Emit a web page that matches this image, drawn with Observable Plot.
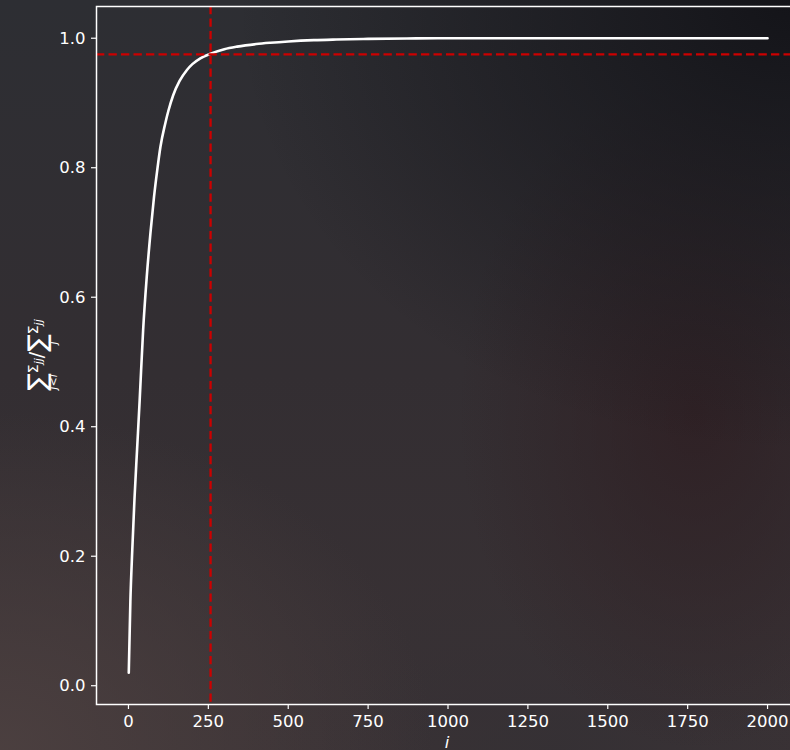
<!DOCTYPE html>
<html>
<head>
<meta charset="utf-8">
<script src="https://cdn.jsdelivr.net/npm/d3@7"></script>
<script src="https://cdn.jsdelivr.net/npm/@observablehq/plot@0.6"></script>
<style>
  html, body { margin: 0; padding: 0; width: 790px; height: 750px; overflow: hidden; }
  body {
    position: relative;
    font-family: "DejaVu Sans", sans-serif;
    background:
      radial-gradient(ellipse 55% 45% at 0% 100%, rgba(76,64,64,0.95), rgba(76,64,64,0) 100%),
      radial-gradient(ellipse 70% 60% at 100% 0%, rgba(20,20,25,1), rgba(20,20,25,0) 100%),
      radial-gradient(ellipse 30% 45% at 88% 55%, rgba(46,30,34,0.8), rgba(46,30,34,0) 100%),
      radial-gradient(ellipse 40% 25% at 70% 100%, rgba(52,48,52,0.8), rgba(52,48,52,0) 100%),
      linear-gradient(180deg, #2d2e33 0%, #332e32 50%, #3a3235 100%);
  }
  #chart { position: absolute; left: 0; top: 0; width: 800px; }
  #chart svg { max-width: none !important; }
  #ylab {
    position: absolute; left: 43px; top: 355px;
    transform: translate(-50%, -50%) rotate(-90deg);
    color: #ffffff; white-space: nowrap;
    display: flex; align-items: flex-start;
    font-family: "DejaVu Sans", sans-serif; font-size: 18px; line-height: 1;
  }
  #ylab .op { display: inline-flex; flex-direction: column; align-items: center; }
  #ylab .big { font-size: 26px; line-height: 22px; }
  #ylab .lim { font-size: 11px; font-style: italic; line-height: 12px; }
  #ylab .s { font-size: 14px; margin-top: 0px; }
  #ylab .s sub { font-size: 11px; font-style: italic; vertical-align: -4px; }
  #ylab .sl { font-size: 19px; margin-top: 1px; }
  #xlab {
    position: absolute; left: 447px; top: 742px; transform: translate(-50%, -50%);
    color: #ffffff; font-style: italic; font-size: 16.5px; font-family: "DejaVu Sans", sans-serif;
  }
</style>
</head>
<body>
<div id="chart"></div>
<div id="ylab"><span class="op"><span class="big">∑</span><span class="lim">j&lt;i</span></span><span class="s">Σ<sub>jj</sub></span><span class="sl">/</span><span class="op"><span class="big">∑</span><span class="lim">j</span></span><span class="s">Σ<sub>jj</sub></span></div>
<div id="xlab">i</div>
<script>
// cumulative explained fraction
const index = [1, 6, 12, 19, 27, 35, 46, 57, 69, 80, 90, 100, 115, 125, 140, 160, 183, 200, 225, 257, 300, 340, 400, 444, 500, 580, 650, 750, 900, 1000, 1250, 1500, 1750, 2000];
const fraction = [0.020, 0.130, 0.210, 0.290, 0.365, 0.440, 0.550, 0.630, 0.700, 0.755, 0.796, 0.832, 0.868, 0.888, 0.912, 0.934, 0.951, 0.960, 0.969, 0.976, 0.983, 0.987, 0.991, 0.993, 0.995, 0.997, 0.998, 0.999, 0.9997, 1.0, 1.0, 1.0, 1.0, 1.0];
const cutoffIndex = [257];
const cutoffFraction = [0.975];
const xTicks = [0, 250, 500, 750, 1000, 1250, 1500, 1750, 2000];
const yTicks = [0.0, 0.2, 0.4, 0.6, 0.8, 1.0];

const data = index.map((d, k) => ({i: d, f: fraction[k]}));

const chart = Plot.plot({
  width: 800,
  height: 750,
  marginLeft: 96,
  marginRight: 1,
  marginTop: 6,
  marginBottom: 46,
  style: {background: "transparent", fontFamily: "DejaVu Sans, sans-serif", color: "white", overflow: "visible", maxWidth: "none"},
  x: {domain: [-100, 2100]},
  y: {domain: [-0.029, 1.049]},
  marks: [
    Plot.line(data, {x: "i", y: "f", stroke: "white", strokeWidth: 2.6, curve: "monotone-x"}),
    Plot.ruleX(cutoffIndex, {stroke: "#cc0000", strokeWidth: 2.3, strokeDasharray: "8.3,4.2"}),
    Plot.ruleY(cutoffFraction, {stroke: "#cc0000", strokeWidth: 2.3, strokeDasharray: "8.3,4.2"}),
    Plot.frame({stroke: "white", strokeWidth: 1.5}),
    Plot.axisX({ticks: xTicks, tickFormat: d => String(d), tickSize: 5, tickPadding: 6, stroke: "white", strokeWidth: 1.2, fill: "white", fontSize: 16.5, label: null}),
    Plot.axisY({ticks: yTicks, tickFormat: d => d.toFixed(1), tickSize: 5, tickPadding: 6, stroke: "white", strokeWidth: 1.2, fill: "white", fontSize: 16.5, label: null})
  ]
});
document.getElementById("chart").appendChild(chart);
</script>
</body>
</html>
